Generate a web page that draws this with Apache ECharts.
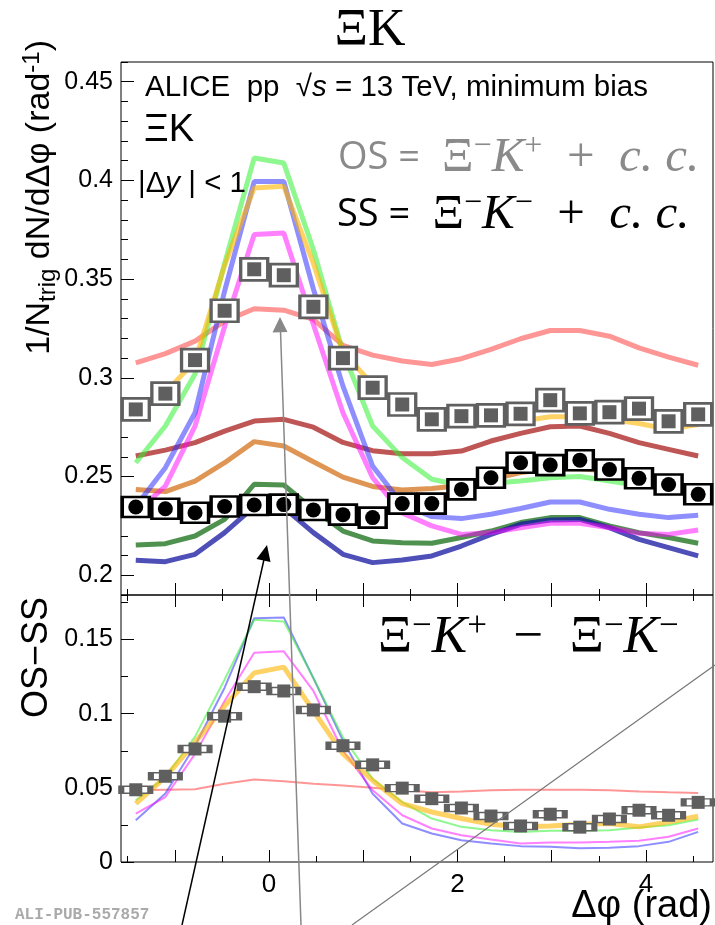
<!DOCTYPE html>
<html><head><meta charset="utf-8">
<script src="https://cdn.jsdelivr.net/npm/echarts@6/dist/echarts.min.js"></script>
<style>html,body{margin:0;padding:0;background:#fff}#c{width:715px;height:925px}</style>
</head><body><div id="c"></div>
<script>
// bin centres (rad)
const xCenters = [-1.414, -1.100, -0.785, -0.471, -0.157, 0.157, 0.471, 0.785, 1.100, 1.414,
                  1.728, 2.042, 2.356, 2.670, 2.985, 3.299, 3.613, 3.927, 4.241, 4.555];
// top panel data
const osData = [0.284, 0.292, 0.309, 0.334, 0.355, 0.352, 0.336, 0.310, 0.295, 0.2865,
                0.279, 0.2806, 0.281, 0.2818, 0.2887, 0.282, 0.2826, 0.2844, 0.278, 0.2815];
const ssData = [0.2346, 0.2337, 0.2317, 0.2348, 0.2356, 0.2358, 0.2331, 0.2307, 0.2292, 0.2363,
                0.2363, 0.2435, 0.2494, 0.257, 0.2558, 0.2583, 0.2536, 0.2491, 0.246, 0.241];
// top panel model curves
const salmonTop = [0.3076, 0.3123, 0.3186, 0.3287, 0.335, 0.3343, 0.3296, 0.3165, 0.3115, 0.3085,
                   0.3068, 0.3097, 0.3144, 0.3198, 0.324, 0.324, 0.3211, 0.3152, 0.3105, 0.3064];
const darkRedTop = [0.2604, 0.2634, 0.2672, 0.273, 0.2781, 0.279, 0.2750, 0.2673, 0.2631, 0.2615,
                    0.2616, 0.2629, 0.268, 0.2719, 0.2752, 0.2756, 0.2719, 0.2672, 0.2638, 0.2604];
const orangeTop = [0.2435, 0.2424, 0.2477, 0.257, 0.2677, 0.2655, 0.2575, 0.2497, 0.245, 0.2432,
                   0.2439, 0.2455, 0.2486, 0.252, 0.254, 0.254, 0.2528, 0.2503, 0.246, 0.2435];
const yellowTop = [0.284, 0.2925, 0.3085, 0.357, 0.3962, 0.397, 0.358, 0.313, 0.2967, 0.2857,
                   0.2775, 0.2761, 0.2769, 0.278, 0.2803, 0.2803, 0.279, 0.2769, 0.2739, 0.2764];
const greenTop = [0.257, 0.2756, 0.302, 0.358, 0.4114, 0.4088, 0.365, 0.313, 0.2756, 0.2596,
                  0.2486, 0.2455, 0.2466, 0.2477, 0.2494, 0.25, 0.2477, 0.2455, 0.2439, 0.2427];
const blueTop = [0.235, 0.2545, 0.2823, 0.344, 0.3995, 0.3995, 0.345, 0.2958, 0.2553, 0.236,
                 0.2297, 0.2287, 0.2309, 0.2338, 0.2371, 0.2371, 0.2334, 0.2309, 0.2292, 0.2304];
const magentaTop = [0.2317, 0.2452, 0.2756, 0.326, 0.3726, 0.3734, 0.327, 0.2823, 0.2494, 0.2315,
                    0.225, 0.2207, 0.2216, 0.2241, 0.2263, 0.2263, 0.2241, 0.2213, 0.2207, 0.2229];
const darkGreenTop = [0.2153, 0.216, 0.2199, 0.2283, 0.2461, 0.2457, 0.2334, 0.2224, 0.2174, 0.2165,
                      0.2162, 0.2191, 0.2224, 0.2267, 0.2292, 0.2292, 0.225, 0.2216, 0.2191, 0.2162];
const darkBlueTop = [0.2076, 0.2069, 0.2106, 0.2216, 0.2348, 0.2343, 0.2216, 0.2106, 0.2064, 0.2077,
                     0.2098, 0.2148, 0.2207, 0.2258, 0.228, 0.2283, 0.2241, 0.2182, 0.214, 0.2098];
// bottom panel (OS - SS)
const diffData = [0.0487, 0.0578, 0.0762, 0.0983, 0.1182, 0.1153, 0.1025, 0.0784, 0.0655, 0.0498,
                  0.0427, 0.0364, 0.031, 0.0243, 0.0322, 0.0235, 0.029, 0.0349, 0.0315, 0.0402];
const salmonDiff = [0.0483, 0.0487, 0.049, 0.0527, 0.0556, 0.0545, 0.0527, 0.0516, 0.05, 0.0483,
                    0.047, 0.0476, 0.0483, 0.0487, 0.0487, 0.0487, 0.0483, 0.0476, 0.047, 0.0465];
const greenDiff = [0.0416, 0.0572, 0.0845, 0.123, 0.1633, 0.1622, 0.124, 0.084, 0.056, 0.0404,
                   0.0293, 0.0237, 0.0214, 0.0203, 0.021, 0.021, 0.0214, 0.0232, 0.0248, 0.0286];
const blueDiff = [0.0282, 0.0462, 0.0784, 0.1175, 0.1644, 0.1649, 0.124, 0.0818, 0.046, 0.026,
                  0.0192, 0.0147, 0.0125, 0.0107, 0.0103, 0.0092, 0.0096, 0.0107, 0.0136, 0.0203];
const magentaDiff = [0.0326, 0.0438, 0.0729, 0.1086, 0.141, 0.142, 0.1153, 0.075, 0.0483, 0.0315,
                     0.0226, 0.018, 0.0152, 0.0125, 0.0132, 0.0132, 0.0136, 0.0143, 0.017, 0.0226];
const yellowDiff = [0.0393, 0.0572, 0.0806, 0.1052, 0.1275, 0.1314, 0.1019, 0.0729, 0.055, 0.0393,
                    0.0337, 0.0293, 0.0255, 0.0237, 0.0243, 0.0255, 0.0259, 0.0237, 0.027, 0.0308];
// ticks & labels
const xMajorTicks = [-1, 0, 1, 2, 3, 4];
const xMinorTicks = [-1.5, -0.5, 0.5, 1.5, 2.5, 3.5, 4.5];
const xLabels = [0, 2, 4];
const yTopLabels = [0.2, 0.25, 0.3, 0.35, 0.4, 0.45];
const yTopMinor = [0.19, 0.21, 0.22, 0.23, 0.24, 0.26, 0.27, 0.28, 0.29, 0.31, 0.32, 0.33, 0.34,
                   0.36, 0.37, 0.38, 0.39, 0.41, 0.42, 0.43, 0.44, 0.46];
const yBotLabels = [0, 0.05, 0.1, 0.15];
const yBotMinor = [0.025, 0.075, 0.125, 0.175];

const X_MIN = -Math.PI / 2, X_MAX = 3 * Math.PI / 2;
const SANS = '"Liberation Sans", Arial, sans-serif';
const SERIF = '"Liberation Serif", "DejaVu Serif", serif';
const OPEN = '"Open Sans", sans-serif';

const C = {
  salmon: 'rgba(255,80,80,0.6)',
  darkRed: 'rgba(170,30,30,0.75)',
  orange: 'rgba(210,110,20,0.72)',
  yellow: 'rgba(255,180,0,0.6)',
  green: 'rgba(50,240,50,0.55)',
  blue: 'rgba(50,50,255,0.55)',
  magenta: 'rgba(255,0,255,0.5)',
  darkGreen: 'rgba(20,110,20,0.75)',
  darkBlue: 'rgba(20,20,160,0.75)'
};

function pts(arr) { return xCenters.map((x, i) => [x, arr[i]]); }
function line(data, color, width, xi, yi) {
  return { type: 'line', xAxisIndex: xi, yAxisIndex: yi, data: pts(data), symbol: 'none',
           showSymbol: false, lineStyle: { color: color, width: width }, z: 2, silent: true };
}
function scat(data, xi, yi, symbol, size, style, z) {
  return { type: 'scatter', xAxisIndex: xi, yAxisIndex: yi, data: pts(data), symbol: symbol,
           symbolSize: size, itemStyle: Object.assign({ opacity: 1 }, style), z: z, silent: true };
}
function xAx(grid, pos, ticks, len, labels) {
  return { type: 'value', gridIndex: grid, position: pos, min: X_MIN, max: X_MAX,
    axisLine: { show: false, onZero: false }, splitLine: { show: false },
    axisTick: { show: true, inside: true, length: len, customValues: ticks, lineStyle: { color: '#000', width: 1 } },
    axisLabel: labels ? { show: true, customValues: labels, color: '#000', fontFamily: SANS, fontSize: 26, margin: 10 } : { show: false } };
}
function yAx(grid, min, max, ticks, len, labels) {
  return { type: 'value', gridIndex: grid, position: 'left', min: min, max: max,
    axisLine: { show: false, onZero: false }, splitLine: { show: false },
    axisTick: { show: true, inside: true, length: len, customValues: ticks, lineStyle: { color: '#000', width: 1 } },
    axisLabel: labels ? { show: true, customValues: labels, color: '#000', fontFamily: SANS, fontSize: 25, margin: 8,
        formatter: v => String(Math.round(v * 1000) / 1000) } : { show: false } };
}
function mathRich(color, mSize, sSize, lh) {
  return { m: { fontFamily: SERIF, fontSize: mSize, fill: color, lineHeight: lh },
           k: { fontFamily: SERIF, fontSize: mSize, fontStyle: 'italic', fill: color, lineHeight: lh },
           s: { fontFamily: SERIF, fontSize: sSize, fill: color, verticalAlign: 'top', lineHeight: sSize + 2 },
           a: { fontFamily: OPEN, fontSize: 38, fill: color, lineHeight: lh } };
}

const option = {
  animation: false,
  backgroundColor: '#fff',
  grid: [
    { left: 121, top: 62, width: 592, height: 533, show: true, borderColor: '#000', borderWidth: 1, backgroundColor: 'transparent' },
    { left: 121, top: 595, width: 592, height: 267, show: true, borderColor: '#000', borderWidth: 1, backgroundColor: 'transparent' }
  ],
  xAxis: [
    xAx(0, 'bottom', xMajorTicks, 12, null),
    xAx(0, 'bottom', xMinorTicks, 6, null),
    xAx(1, 'bottom', xMajorTicks, 12, xLabels),
    xAx(1, 'bottom', xMinorTicks, 6, null),
    xAx(1, 'top', xMajorTicks, 12, null),
    xAx(1, 'top', xMinorTicks, 6, null)
  ],
  yAxis: [
    yAx(0, 0.19, 0.46, yTopLabels, 13, yTopLabels),
    yAx(0, 0.19, 0.46, yTopMinor, 7, null),
    yAx(1, 0, 0.18, yBotLabels, 13, yBotLabels),
    yAx(1, 0, 0.18, yBotMinor, 7, null)
  ],
  series: [
    line(salmonTop, C.salmon, 5, 0, 0),
    line(darkRedTop, C.darkRed, 5, 0, 0),
    line(orangeTop, C.orange, 5, 0, 0),
    line(darkGreenTop, C.darkGreen, 5, 0, 0),
    line(darkBlueTop, C.darkBlue, 5, 0, 0),
    line(magentaTop, C.magenta, 5, 0, 0),
    line(blueTop, C.blue, 5, 0, 0),
    line(greenTop, C.green, 5, 0, 0),
    line(yellowTop, C.yellow, 5, 0, 0),
    scat(osData, 0, 0, 'rect', [27, 22], { color: '#fff', borderColor: '#606060', borderWidth: 3 }, 4),
    scat(ssData, 0, 0, 'rect', [27, 20], { color: '#fff', borderColor: '#000', borderWidth: 3 }, 4),
    scat(osData, 0, 0, 'rect', 14, { color: '#5f5f5f' }, 5),
    scat(ssData, 0, 0, 'circle', 15, { color: '#000' }, 5),

    line(salmonDiff, C.salmon, 2, 2, 2),
    line(blueDiff, C.blue, 2, 2, 2),
    line(magentaDiff, C.magenta, 2, 2, 2),
    line(greenDiff, C.green, 2, 2, 2),
    line(yellowDiff, C.yellow, 5, 2, 2),
    scat(diffData, 2, 2, 'rect', [29, 7], { color: '#fff', borderColor: '#606060', borderWidth: 3 }, 4),
    scat(diffData, 2, 2, 'rect', 13, { color: '#5f5f5f' }, 5)
  ],
  graphic: [
    { type: 'text', x: 370, y: 31, z: 100, style: { text: 'ΞK', fontFamily: SERIF, fontSize: 52, fill: '#000', textAlign: 'center', textVerticalAlign: 'middle' } },
    { type: 'text', x: 145, y: 88, z: 100, style: {
        text: '{a|ALICE  pp  }{r|√}{i|s}{a| = 13 TeV, minimum bias}', textAlign: 'left', textVerticalAlign: 'middle',
        rich: { a: { fontFamily: SANS, fontSize: 29.5, fill: '#000' }, r: { fontFamily: SANS, fontSize: 29.5, fill: '#000' },
                i: { fontFamily: SANS, fontSize: 29.5, fontStyle: 'italic', fill: '#000' } } } },
    { type: 'text', x: 144, y: 131, z: 100, style: { text: 'ΞK', fontFamily: SANS, fontSize: 38, fill: '#000', textAlign: 'left', textVerticalAlign: 'middle' } },
    { type: 'text', x: 138, y: 184, z: 100, style: {
        text: '{a|\u007CΔ}{i|y}{a| | < 1}', textAlign: 'left', textVerticalAlign: 'middle',
        rich: { a: { fontFamily: SANS, fontSize: 29.5, fill: '#000' }, i: { fontFamily: SANS, fontSize: 29.5, fontStyle: 'italic', fill: '#000' } } } },
    { type: 'text', x: 338, y: 158, z: 100, style: {
        text: '{a|OS = }{m| Ξ}{s|−}{k|K}{s|+}{m|  +  }{k|c. c.}', textAlign: 'left', textVerticalAlign: 'middle',
        rich: mathRich('#8a8a8a', 49, 32, 54) } },
    { type: 'text', x: 337, y: 215, z: 100, style: {
        text: '{a|SS = }{m| Ξ}{s|−}{k|K}{s|−}{m|  +  }{k|c. c.}', textAlign: 'left', textVerticalAlign: 'middle',
        rich: mathRich('#000', 49, 32, 54) } },
    { type: 'text', x: 378, y: 638, z: 100, style: {
        text: '{m|Ξ}{s|−}{k|K}{s|+}{m|  −  }{m|Ξ}{s|−}{k|K}{s|−}', textAlign: 'left', textVerticalAlign: 'middle',
        rich: mathRich('#000', 53, 35, 58) } },
    { type: 'text', x: 40, y: 40, rotation: Math.PI / 2, z: 100, style: {
        text: '{a|1/N}{b|trig}{a| dN/dΔφ (rad}{p|-1}{a|)}', textAlign: 'right', textVerticalAlign: 'middle',
        rich: { a: { fontFamily: SANS, fontSize: 34, fill: '#000', lineHeight: 40 },
                b: { fontFamily: SANS, fontSize: 24, fill: '#000', verticalAlign: 'bottom', lineHeight: 24 },
                p: { fontFamily: SANS, fontSize: 24, fill: '#000', verticalAlign: 'top', lineHeight: 24 } } } },
    { type: 'text', x: 37, y: 597, rotation: Math.PI / 2, z: 100, style: {
        text: 'OS\u2212SS', fontFamily: SANS, fontSize: 36, fill: '#000', textAlign: 'right', textVerticalAlign: 'middle' } },
    { type: 'text', x: 712, y: 907, z: 100, style: {
        text: 'Δφ (rad)', fontFamily: SANS, fontSize: 38, fill: '#000', textAlign: 'right', textVerticalAlign: 'middle' } },
    { type: 'text', x: 15, y: 915, z: 100, style: {
        text: 'ALI-PUB-557857', fontFamily: '"Liberation Mono", "DejaVu Sans Mono", monospace', fontWeight: 'bold', fontSize: 16, fill: '#aaaaaa', textAlign: 'left', textVerticalAlign: 'middle' } },
    // annotation arrows
    { type: 'line', z: 110, shape: { x1: 182, y1: 925, x2: 265, y2: 555 }, style: { stroke: '#000', lineWidth: 1.5 } },
    { type: 'polygon', z: 110, shape: { points: [[267, 545], [270.5, 562], [256.5, 559]] }, style: { fill: '#000' } },
    { type: 'line', z: 110, shape: { x1: 301, y1: 925, x2: 280.4, y2: 328 }, style: { stroke: '#888', lineWidth: 1.5 } },
    { type: 'polygon', z: 110, shape: { points: [[280, 317], [287.5, 332], [272.5, 332.5]] }, style: { fill: '#888' } },
    { type: 'line', z: 110, shape: { x1: 352, y1: 925, x2: 715, y2: 665 }, style: { stroke: '#777', lineWidth: 1.2 } }
  ]
};
const chart = echarts.init(document.getElementById('c'), null, { renderer: 'canvas' });
chart.setOption(option);
</script>
</body></html>
